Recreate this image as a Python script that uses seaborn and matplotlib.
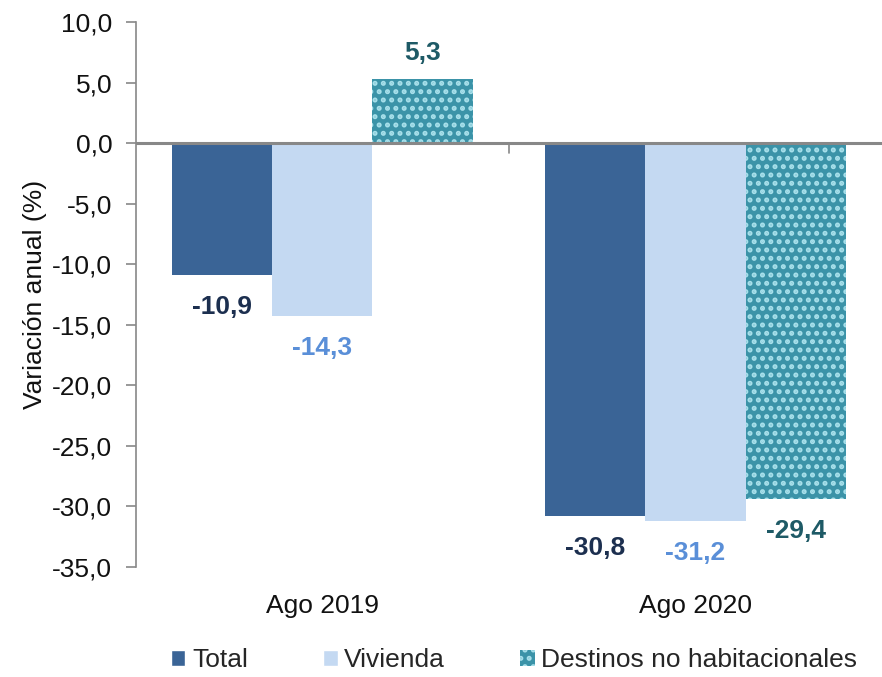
import matplotlib
matplotlib.use("Agg")
import matplotlib.pyplot as plt
import seaborn as sns
import pandas as pd
from matplotlib.patches import Patch

categories = ["Ago 2019", "Ago 2020"]
series = ["Total", "Vivienda", "Destinos no habitacionales"]
total = [-10.9, -30.8]
vivienda = [-14.3, -31.2]
destinos = [5.3, -29.4]
yticks = [10, 5, 0, -5, -10, -15, -20, -25, -30, -35]

bar_colors = ["#3a6496", "#c4d9f2", "#3b93a8"]
label_colors = ["#1c2f4f", "#5a8fd8", "#1e5a66"]
dot_color = "#a6dfea"

rows = []
for s, vals in zip(series, [total, vivienda, destinos]):
    for c, v in zip(categories, vals):
        rows.append({"cat": c, "serie": s, "val": v})
df = pd.DataFrame(rows)

sns.set_style("white")
plt.rcParams['font.family'] = ['Liberation Sans', 'DejaVu Sans']
plt.rcParams['hatch.linewidth'] = 2.4

FS = 19

fig = plt.figure(figsize=(8.82, 6.77), dpi=100)
ax = fig.add_axes([0.154, 0.1625, 0.846, 0.805])

sns.barplot(data=df, x="cat", y="val", hue="serie", order=categories,
            hue_order=series, palette=bar_colors, width=0.805, ax=ax,
            legend=False, saturation=1, linewidth=0, errorbar=None)

for i, cont in enumerate(ax.containers):
    for bar in cont:
        bar.set_edgecolor("none")
        if i == 2:
            bar.set_hatch("..")
            bar.set_edgecolor(dot_color)
            bar.set_linewidth(0)
    vals = [total, vivienda, destinos][i]
    for bar, v in zip(cont, vals):
        x = bar.get_x() + bar.get_width() / 2
        off = 26 if v > 0 else -32
        ax.annotate(f"{v:.1f}".replace(".", ","), (x, v), xytext=(0, off),
                    textcoords="offset pixels", ha="center", va="center",
                    fontsize=FS, fontweight="bold", color=label_colors[i])

ax.set_ylim(-35, 10)
ax.set_xlim(-0.5, 1.5)
ax.set_yticks(yticks)
ax.set_yticklabels([f"{t:.1f}".replace(".", ",") for t in yticks], fontsize=FS, color="#111111")
ax.tick_params(axis="y", which="both", left=True, length=7, width=1.2, color="#888888", pad=10)
ax.tick_params(axis="x", bottom=False, labelsize=FS, labelcolor="#111111", pad=16)
ax.set_xlabel("")
ax.set_ylabel("Variación anual (%)", fontsize=FS, color="#111111", labelpad=4)

for sp in ["top", "right", "bottom"]:
    ax.spines[sp].set_visible(False)
ax.spines["left"].set_color("#888888")
ax.spines["left"].set_linewidth(1.2)

ax.axhline(0, color="#888888", linewidth=2.2, zorder=3)
ax.plot([0.5, 0.5], [0, -0.8], color="#888888", linewidth=1.2, zorder=3, clip_on=False)

handles = [Patch(facecolor=bar_colors[0]), Patch(facecolor=bar_colors[1]),
           Patch(facecolor=bar_colors[2], hatch="..", edgecolor=dot_color, linewidth=0)]
fig.legend(handles, series, loc="center", bbox_to_anchor=(0.583, 0.025), ncol=3,
           frameon=False, fontsize=FS, handlelength=0.55, handleheight=0.55,
           handletextpad=0.25, columnspacing=2.85)

fig.savefig("out.png", dpi=100)
